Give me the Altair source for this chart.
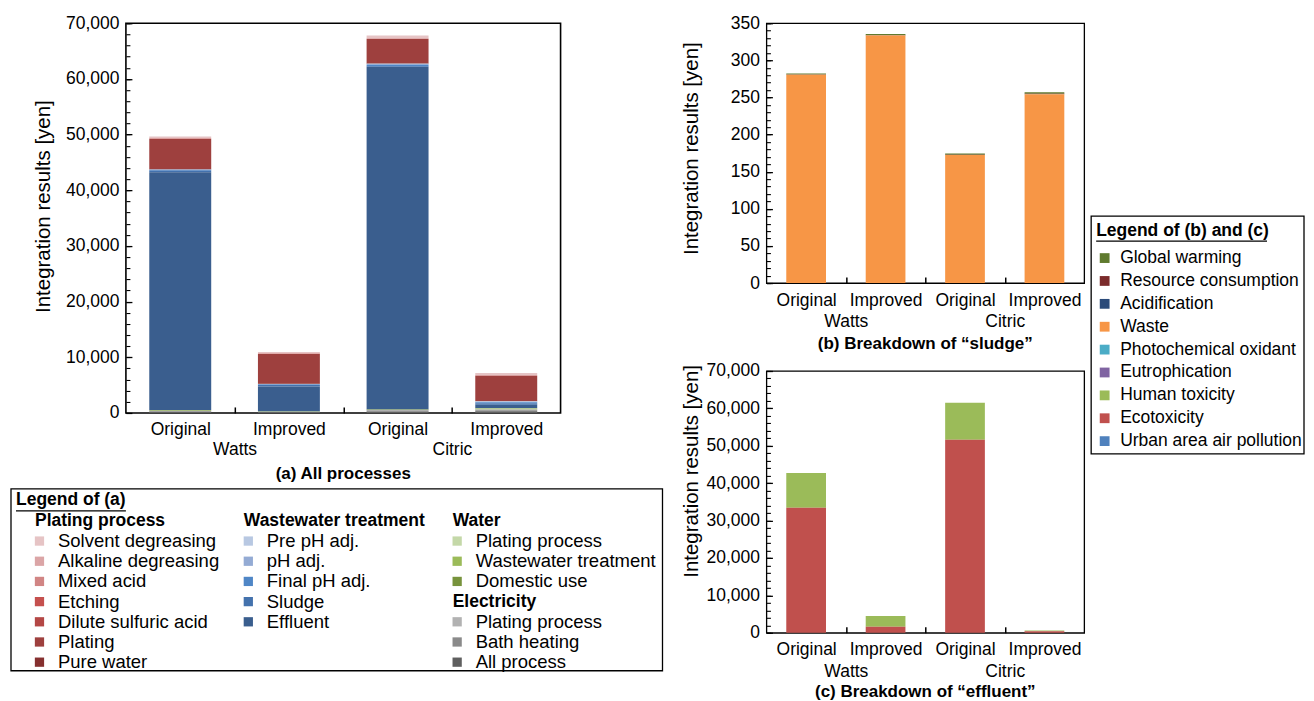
import altair as alt
import pandas as pd

FONT = "Liberation Sans, Arial, Helvetica, sans-serif"

# ---------------- categories ----------------
SUBLABELS = ["Original", "Improved", "Original", "Improved"]
GROUPS = ["Watts", "Citric"]
BAR_POS = [0, 1, 2, 3]
GROUP_POS = [0.5, 2.5]
SEP_POS = [0.5, 1.5, 2.5]

# ---------------- (a) All processes [yen]  (Watts-Orig, Watts-Impr, Citric-Orig, Citric-Impr)
A_SOLVENT = [300, 210, 440, 330]
A_ALKALINE = [120, 100, 150, 130]
A_MIXED = [20, 20, 20, 20]
A_ETCHING = [10, 10, 10, 10]
A_DILUTE = [20, 20, 20, 20]
A_PLATING = [5370, 5350, 4350, 4490]
A_PUREWATER = [80, 50, 60, 70]
A_PREPH = [40, 20, 80, 60]
A_PH = [60, 30, 120, 90]
A_FINALPH = [150, 60, 250, 200]
A_SLUDGE = [282, 335, 174, 256]
A_EFFLUENT = [42700, 4500, 61500, 620]
A_W_PLATING = [40, 20, 20, 80]
A_W_WWT = [60, 20, 20, 120]
A_W_DOMESTIC = [60, 20, 30, 60]
A_E_PLATING = [60, 40, 100, 100]
A_E_HEATING = [150, 60, 250, 200]
A_E_ALL = [150, 80, 200, 300]

A_SERIES = [A_SOLVENT, A_ALKALINE, A_MIXED, A_ETCHING, A_DILUTE, A_PLATING, A_PUREWATER,
            A_PREPH, A_PH, A_FINALPH, A_SLUDGE, A_EFFLUENT,
            A_W_PLATING, A_W_WWT, A_W_DOMESTIC,
            A_E_PLATING, A_E_HEATING, A_E_ALL]
A_LABELS = ["Solvent degreasing", "Alkaline degreasing", "Mixed acid", "Etching",
            "Dilute sulfuric acid", "Plating", "Pure water",
            "Pre pH adj.", "pH adj.", "Final pH adj.", "Sludge", "Effluent",
            "Plating process", "Wastewater treatment", "Domestic use",
            "Plating process", "Bath heating", "All process"]
A_COLORS = ["#e6c4c5", "#dba5a6", "#d18584", "#c5504e", "#b44745", "#9e403e", "#86302f",
            "#b8c8e2", "#94abd4", "#4f86c6", "#4472ad", "#3a5e8e",
            "#c4d8a8", "#9bbb59", "#77933c",
            "#b2b2b2", "#8a8a8a", "#5f5f5f"]
A_LEG_COL = [0, 0, 0, 0, 0, 0, 0, 1, 1, 1, 1, 1, 2, 2, 2, 2, 2, 2]
A_LEG_ROW = [1, 2, 3, 4, 5, 6, 7, 1, 2, 3, 4, 5, 1, 2, 3, 5, 6, 7]
A_HEADERS = ["Plating process", "Wastewater treatment", "Water", "Electricity"]
A_HEAD_COL = [0, 1, 2, 2]
A_HEAD_ROW = [0, 0, 0, 4]

# ---------------- (b) sludge, (c) effluent ----------------
BC_LABELS = ["Global warming", "Resource consumption", "Acidification", "Waste",
             "Photochemical oxidant", "Eutrophication", "Human toxicity", "Ecotoxicity",
             "Urban area air pollution"]
BC_COLORS = ["#5f7a2e", "#7b2b2b", "#2b4b7a", "#f79646", "#4bacc6", "#8064a2",
             "#9bbb59", "#c0504d", "#4f81bd"]

B_GLOBAL = [1.5, 1.5, 1.8, 2.0]
B_RESOURCE = [0.3, 0.3, 0.2, 0.3]
B_ACID = [0.1, 0.1, 0.1, 0.1]
B_WASTE = [280.5, 333.5, 172.5, 254.5]
B_PHOTO = [0, 0, 0, 0]
B_EUTRO = [0, 0, 0, 0]
B_HUMAN = [0, 0, 0, 0]
B_ECO = [0, 0, 0, 0]
B_URBAN = [0, 0, 0, 0]
B_SERIES = [B_GLOBAL, B_RESOURCE, B_ACID, B_WASTE, B_PHOTO, B_EUTRO, B_HUMAN, B_ECO, B_URBAN]

C_GLOBAL = [0, 0, 0, 0]
C_RESOURCE = [0, 0, 0, 0]
C_ACID = [0, 0, 0, 0]
C_WASTE = [0, 0, 0, 0]
C_PHOTO = [0, 0, 0, 0]
C_EUTRO = [0, 0, 0, 0]
C_HUMAN = [9300, 2900, 9900, 200]
C_ECO = [33400, 1600, 51600, 420]
C_URBAN = [0, 0, 0, 0]
C_SERIES = [C_GLOBAL, C_RESOURCE, C_ACID, C_WASTE, C_PHOTO, C_EUTRO, C_HUMAN, C_ECO, C_URBAN]

TICK_FS = 17.5
TITLE_FS = 20.5
LEG_FS = 18.5
LEG_BC_FS = 17.5
HEAD_FS = 17.5


def long_table(series, half, prefix):
    rows = []
    n = len(series)
    for i, vals in enumerate(series):
        for b, v in enumerate(vals):
            rows.append(dict(bar=b, key=f"{prefix}{i:02d}", ord=n - 1 - i, value=v,
                             x0=BAR_POS[b] - half, x1=BAR_POS[b] + half))
    return pd.DataFrame(rows)


def label_expr():
    parts = [f"datum.value === {p} ? '{s}'" for p, s in zip(BAR_POS, SUBLABELS)]
    parts += [f"datum.value === {p} ? ['', '{g}']" for p, g in zip(GROUP_POS, GROUPS)]
    return " : ".join(parts) + " : ''"


def panel(series, colors, prefix, W, H, ymax, major_step, minor_step, fmt, half, title,
          tx, ty, xpad, lineh, toff, fw):
    df = long_table(series, half, prefix)
    keys = [f"{prefix}{i:02d}" for i in range(len(series))]
    xs = alt.Scale(domain=[-0.5, 3.5], nice=False, zero=False)
    ys = alt.Scale(domain=[0, ymax], nice=False, zero=True)
    major = list(range(0, ymax + 1, major_step))
    minor = list(range(0, ymax + 1, minor_step))

    bars = alt.Chart(df).transform_stack(
        stack="value", groupby=["bar"], as_=["y0", "y1"],
        sort=[alt.SortField("ord", order="ascending")]
    ).mark_bar().encode(
        x=alt.X("x0:Q", scale=xs, axis=alt.Axis(
            values=sorted(BAR_POS + GROUP_POS), labelExpr=label_expr(), ticks=False,
            domain=False, grid=False, labelOverlap=False, labelFlush=False,
            labelFontSize=TICK_FS, labelPadding=xpad, labelLineHeight=lineh,
            labelBaseline="top", title=None, orient="bottom")),
        x2="x1:Q",
        y=alt.Y("y0:Q", scale=ys, axis=alt.Axis(
            values=major, format=fmt, tickSize=6, offset=-6, tickWidth=1.3,
            domain=False, grid=False, labelPadding=7, labelFontSize=TICK_FS,
            title="Integration results [yen]", titleFontSize=TITLE_FS,
            titleFontWeight="normal", titleX=tx, titleY=ty, titleAngle=270,
            titleAlign="center", titleBaseline="bottom", orient="left")),
        y2="y1:Q",
        color=alt.Color("key:N", scale=alt.Scale(domain=keys, range=colors), legend=None),
    )
    dummy = pd.DataFrame({"tx": [0], "ty": [0]})
    ticks = alt.Chart(dummy).mark_point(opacity=0).encode(
        x=alt.X("tx:Q", scale=xs, axis=alt.Axis(
            values=SEP_POS, labels=False, tickSize=6, offset=-6, tickWidth=1.5,
            domain=False, grid=False, title=None, orient="bottom")),
        y=alt.Y("ty:Q", scale=ys, axis=alt.Axis(
            values=minor, labels=False, tickSize=4, offset=-4, tickWidth=1.1,
            domain=False, grid=False, title=None, orient="left")),
    )
    return alt.layer(bars, ticks).resolve_axis(x="independent", y="independent").properties(
        width=W, height=H,
        title=alt.TitleParams(title, orient="bottom", anchor="middle", frame="group",
                              fontSize=17, fontWeight="bold", offset=toff),
        view=alt.ViewBackground(stroke="black", strokeWidth=fw),
    )


def legend_a():
    WL, HL = 537, 182
    xs = alt.Scale(domain=[0, WL], nice=False, zero=False)
    ys = alt.Scale(domain=[0, HL], nice=False, zero=False, reverse=True)
    col_x = [-91, 118, 327]
    row_y = lambda r: 32 + 20.2 * r
    box = pd.DataFrame({"x": [-115], "x2": [WL], "y": [0], "y2": [HL]})
    items = pd.DataFrame({
        "key": [f"a{i:02d}" for i in range(len(A_LABELS))],
        "label": A_LABELS,
        "sx": [col_x[c] + 4.5 for c in A_LEG_COL],
        "lx": [col_x[c] + 23 for c in A_LEG_COL],
        "y": [row_y(r) for r in A_LEG_ROW],
    })
    heads = pd.DataFrame({
        "label": A_HEADERS,
        "x": [col_x[c] for c in A_HEAD_COL],
        "y": [row_y(r) for r in A_HEAD_ROW],
    })
    ttl = pd.DataFrame({"label": ["Legend of (a)"], "x": [-110], "x2": [0], "y": [11], "uy": [22]})
    keys = list(items["key"])
    L_box = alt.Chart(box).mark_rect(fillOpacity=0, stroke="black", strokeWidth=1.3).encode(
        x=alt.X("x:Q", scale=xs, axis=None), x2="x2:Q",
        y=alt.Y("y:Q", scale=ys, axis=None), y2="y2:Q")
    L_sym = alt.Chart(items).mark_square(size=86, opacity=1).encode(
        x=alt.X("sx:Q", scale=xs, axis=None), y=alt.Y("y:Q", scale=ys, axis=None),
        color=alt.Color("key:N", scale=alt.Scale(domain=keys, range=A_COLORS), legend=None))
    L_lab = alt.Chart(items).mark_text(align="left", baseline="middle", fontSize=LEG_FS,
                                       color="black").encode(
        x=alt.X("lx:Q", scale=xs, axis=None), y=alt.Y("y:Q", scale=ys, axis=None),
        text="label:N")
    L_head = alt.Chart(heads).mark_text(align="left", baseline="middle", fontSize=HEAD_FS,
                                        fontWeight="bold", color="black").encode(
        x=alt.X("x:Q", scale=xs, axis=None), y=alt.Y("y:Q", scale=ys, axis=None),
        text="label:N")
    L_ttl = alt.Chart(ttl).mark_text(align="left", baseline="middle", fontSize=HEAD_FS,
                                     fontWeight="bold", color="black").encode(
        x=alt.X("x:Q", scale=xs, axis=None), y=alt.Y("y:Q", scale=ys, axis=None),
        text="label:N")
    L_ul = alt.Chart(ttl).mark_rule(color="black", strokeWidth=1.3).encode(
        x=alt.X("x:Q", scale=xs, axis=None), x2="x2:Q",
        y=alt.Y("uy:Q", scale=ys, axis=None))
    return alt.layer(L_box, L_sym, L_lab, L_head, L_ttl, L_ul).properties(
        width=WL, height=HL, view=alt.ViewBackground(stroke="transparent"))


def legend_bc():
    WL, HL = 213, 431
    xs = alt.Scale(domain=[0, WL], nice=False, zero=False)
    ys = alt.Scale(domain=[0, HL], nice=False, zero=False, reverse=True)
    box = pd.DataFrame({"x": [0], "x2": [WL], "y": [193], "y2": [HL]})
    items = pd.DataFrame({
        "key": [f"c{i:02d}" for i in range(len(BC_LABELS))],
        "label": BC_LABELS,
        "sx": [13.5] * len(BC_LABELS),
        "lx": [29] * len(BC_LABELS),
        "y": [235 + 22.9 * r for r in range(len(BC_LABELS))],
    })
    ttl = pd.DataFrame({"label": ["Legend of (b) and (c)"], "x": [5], "x2": [176],
                        "y": [208], "uy": [218]})
    keys = list(items["key"])
    L_box = alt.Chart(box).mark_rect(fillOpacity=0, stroke="black", strokeWidth=1.3).encode(
        x=alt.X("x:Q", scale=xs, axis=None), x2="x2:Q",
        y=alt.Y("y:Q", scale=ys, axis=None), y2="y2:Q")
    L_sym = alt.Chart(items).mark_square(size=96, opacity=1).encode(
        x=alt.X("sx:Q", scale=xs, axis=None), y=alt.Y("y:Q", scale=ys, axis=None),
        color=alt.Color("key:N", scale=alt.Scale(domain=keys, range=BC_COLORS), legend=None))
    L_lab = alt.Chart(items).mark_text(align="left", baseline="middle", fontSize=LEG_BC_FS,
                                       color="black").encode(
        x=alt.X("lx:Q", scale=xs, axis=None), y=alt.Y("y:Q", scale=ys, axis=None),
        text="label:N")
    L_ttl = alt.Chart(ttl).mark_text(align="left", baseline="middle", fontSize=HEAD_FS,
                                     fontWeight="bold", color="black").encode(
        x=alt.X("x:Q", scale=xs, axis=None), y=alt.Y("y:Q", scale=ys, axis=None),
        text="label:N")
    L_ul = alt.Chart(ttl).mark_rule(color="black", strokeWidth=1.3).encode(
        x=alt.X("x:Q", scale=xs, axis=None), x2="x2:Q",
        y=alt.Y("uy:Q", scale=ys, axis=None))
    return alt.layer(L_box, L_sym, L_lab, L_ttl, L_ul).properties(
        width=WL, height=HL, view=alt.ViewBackground(stroke="transparent"))


chart_a = panel(A_SERIES, A_COLORS, "a", 435, 390, 70000, 10000, 2000, ",d", 0.285,
                "(a) All processes", -78, 183, 8, 20, 8, 1.6)
chart_b = panel(B_SERIES, BC_COLORS, "c", 318, 260, 350, 50, 10, "d", 0.25,
                "(b) Breakdown of \u201csludge\u201d", -71, 125, 8, 21.5, 6, 1.3)
chart_c = panel(C_SERIES, BC_COLORS, "c", 318, 262, 70000, 10000, 2000, ",d", 0.25,
                "(c) Breakdown of \u201ceffluent\u201d", -71, 100, 8, 22, 4, 1.3)

col_a = alt.vconcat(chart_a, legend_a(), spacing=3).resolve_scale(color="independent")
col_bc = alt.vconcat(chart_b, chart_c, spacing=8).resolve_scale(color="independent")
right = alt.hconcat(col_bc, legend_bc(), spacing=4).resolve_scale(color="independent")

chart = alt.hconcat(col_a, right, spacing=16).resolve_scale(color="independent").properties(
    padding={"left": 1, "top": 5, "right": 0, "bottom": 0}
).configure(font=FONT).configure_view(stroke="transparent").configure_axis(
    labelFont=FONT, titleFont=FONT, labelColor="black", titleColor="black",
    tickColor="black"
).configure_title(font=FONT, color="black").configure_text(font=FONT)

chart.save("out.html", embed_options={"renderer": "svg", "actions": False})
